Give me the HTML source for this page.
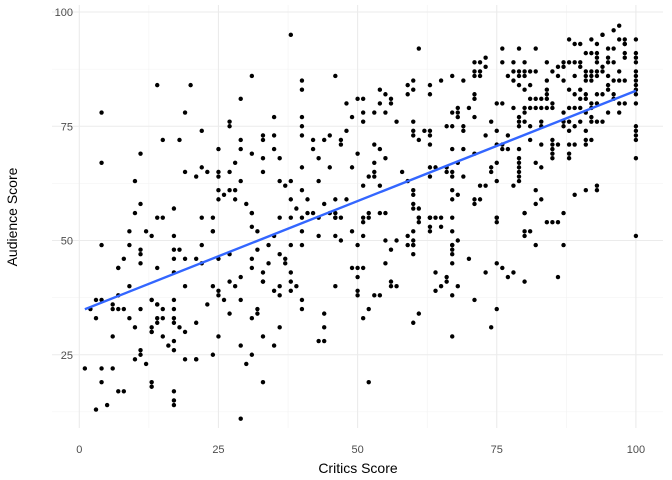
<!DOCTYPE html>
<html><head><meta charset="utf-8"><style>
html,body{margin:0;padding:0;background:#fff;}
svg{display:block;font-family:"Liberation Sans",sans-serif;}
</style></head><body>
<svg id="chart" width="672" height="480" viewBox="0 0 672 480" xmlns="http://www.w3.org/2000/svg">
<g id="grid"></g>
<g id="points"></g>
<g id="fit"></g>
<g id="axes"></g>
<text x="358" y="473" text-anchor="middle" font-size="14" fill="#000">Critics Score</text>
<text transform="translate(17,217) rotate(-90)" text-anchor="middle" font-size="14" fill="#000">Audience Score</text>
</svg>
<script>
const xTicks=[0,25,50,75,100];
const yTicks=[25,50,75,100];
const xTickLabels=["0","25","50","75","100"];
const yTickLabels=["25","50","75","100"];
const critics=[4,4,14,20,19,11,10,11,10,14,15,17,15,18,22,19,21,23,22,22,24,25,25,25,27,27,27,28,29,29,29,29,31,31,25,27,28,25,26,28,30,31,33,33,35,35,35,33,33,36,36,37,38,38,38,38,40,40,40,40,40,40,41,40,41,42,42,42,43,43,44,46,44,45,47,47,45,48,49,48,49,50,50,45,46,46,48,46,47,
51,51,51,53,54,54,55,55,56,56,57,59,59,60,60,61,63,63,65,67,69,60,60,60,61,62,63,63,63,66,67,67,68,68,68,69,69,70,71,71,71,71,72,71,72,71,72,73,73,74,73,75,76,76,76,77,78,78,78,79,79,79,80,80,80,81,82,79,80,81,82,78,80,80,79,79,79,80,81,82,83,84,81,82,83,84,85,84,84,84,84,85,85,81,83,83,86,87,87,86,87,88,89,90,88,89,90,88,89,89,90,90,91,91,
90,91,91,91,91,92,92,92,92,93,93,93,93,93,94,94,94,95,95,95,95,95,96,96,96,97,97,98,98,98,92,93,94,96,97,98,98,97,98,93,94,95,96,96,97,98,92,93,88,89,90,91,92,95,97,87,87,87,88,89,90,88,91,92,92,93,94,85,85,85,85,85,86,88,88,88,89,91,91,92,100,100,100,100,100,100,100,100,100,100,100,100,100,100,100,100,89,91,93,93,87,
53,54,55,53,53,52,53,51,54,58,59,60,60,60,60,63,63,64,66,66,67,67,67,69,68,69,67,67,68,71,71,71,72,72,73,74,74,75,75,75,75,76,76,77,77,78,79,79,79,79,79,79,79,81,83,82,83,82,82,83,80,52,52,61,63,65,67,75,
31,31,24,24,17,9,12,13,4,9,11,11,11,7,8,7,17,14,17,18,17,21,22,19,22,25,27,31,32,32,31,34,34,35,36,36,37,37,38,38,38,39,40,40,40,43,43,46,46,47,49,50,50,49,50,50,50,9,7,6,6,7,8,3,4,3,11,9,10,13,14,13,15,14,17,17,17,17,15,14,19,21,23,24,25,25,26,27,28,29,29,27,31,32,32,33,33,33,35,36,38,39,40,40,44,46,36,2,6,13,13,13,15,18,19,14,16,17,17,19,21,21,25,24,30,29,31,33,35,36,43,44,44,11,11,10,12,4,6,1,4,7,8,13,13,17,17,17,5,3,29,33,
52,54,51,51,51,55,56,57,59,59,60,60,60,60,60,61,61,61,63,63,63,65,67,64,63,67,67,68,67,67,67,70,75,75,75,80,80,80,81,82,84,85,86,87,100,55,55,56,57,56,53,54,64,64,65,66,66,67,68,71,73,76,77,78,80,86,51,52,51,60,61,67,74,75];
const audience=[78,67,84,84,78,69,63,58,56,55,55,57,72,72,74,65,64,65,66,55,55,70,65,64,76,75,65,67,81,72,70,63,86,69,61,61,61,59,60,59,58,56,73,72,77,73,70,68,65,68,63,62,63,95,59,55,85,83,77,75,73,66,59,61,56,56,72,70,68,63,58,86,72,73,72,71,66,80,77,74,66,81,69,56,56,59,59,55,55,
81,78,76,78,83,80,82,78,81,80,76,84,82,85,83,92,84,82,85,86,85,76,74,73,72,74,74,73,71,75,75,78,79,78,77,75,74,79,82,81,77,89,89,87,87,86,86,90,88,76,73,80,80,92,89,86,89,87,85,92,87,86,89,87,86,87,87,84,83,84,92,79,79,78,77,76,75,76,81,81,81,81,79,79,79,79,79,89,85,83,82,87,80,75,76,75,88,89,88,86,85,94,93,93,89,89,89,83,86,82,83,81,82,81,
88,91,87,86,85,91,87,86,85,91,90,89,87,86,95,88,87,92,90,89,86,84,92,89,85,94,87,93,91,90,94,93,95,96,97,94,93,85,85,82,82,83,81,82,80,80,80,80,79,79,79,78,79,78,78,78,76,75,76,75,76,74,74,77,76,76,76,72,71,70,69,68,71,71,69,68,71,72,71,72,94,91,90,89,87,86,85,84,83,82,80,75,74,73,72,68,60,61,62,61,56,
71,70,68,67,65,64,64,62,62,65,63,61,60,58,57,66,64,66,66,65,65,64,70,70,67,64,61,59,60,69,59,58,59,62,62,66,65,67,63,74,71,70,71,70,73,62,64,65,63,70,68,67,66,72,71,67,66,61,58,59,56,56,55,55,55,55,55,55,
56,53,52,52,51,52,52,51,49,49,48,47,45,44,46,44,43,44,48,48,46,46,45,46,49,46,47,44,52,48,46,45,49,51,55,47,46,45,49,43,41,57,55,52,49,51,55,55,51,50,52,49,44,44,42,39,38,40,38,36,35,35,35,37,37,33,35,33,31,37,36,37,35,36,37,35,33,32,33,33,40,32,36,40,38,39,37,41,40,42,37,34,33,34,35,41,41,43,39,40,39,40,37,35,34,40,38,35,29,30,31,30,29,31,30,32,27,28,26,24,24,24,29,25,23,27,25,29,27,31,28,28,31,26,25,24,23,22,22,22,19,17,17,18,19,14,17,15,14,13,11,19,19,
56,55,54,51,50,48,50,51,49,49,47,50,49,52,54,57,55,53,52,55,53,52,55,55,48,45,50,49,49,47,46,45,54,55,52,51,56,52,49,54,54,54,49,51,56,45,41,40,40,38,38,39,43,40,41,42,38,40,37,43,44,42,43,41,42,44,35,33,32,34,29,31,35,34];
const W=672,H=480,PL=52,PR=663,PT=5,PB=428;
function xs(v){return 79.3+v*5.566;}
function ys(v){return 469-v*4.57;}
const NS="http://www.w3.org/2000/svg";
function mk(tag,attrs,parent){const e=document.createElementNS(NS,tag);for(const k in attrs)e.setAttribute(k,attrs[k]);parent.appendChild(e);return e;}
const grid=document.getElementById('grid');
// minor
for(let i=0;i<xTicks.length-1;i++){const v=(xTicks[i]+xTicks[i+1])/2;const l=mk('line',{x1:xs(v),x2:xs(v),y1:PT,y2:PB,stroke:'#f2f2f2','stroke-width':0.6},grid);

}
for(const v of [12.5,37.5,62.5,87.5]){const l=mk('line',{x1:PL,x2:PR,y1:ys(v),y2:ys(v),stroke:'#f2f2f2','stroke-width':0.6},grid);

}
const axes=document.getElementById('axes');
xTicks.forEach((v,i)=>{const l=mk('line',{x1:xs(v),x2:xs(v),y1:PT,y2:PB,stroke:'#ebebeb','stroke-width':1.1},grid);


const t=mk('text',{x:xs(v),y:453,'text-anchor':'middle','font-size':11,fill:'#4d4d4d'},axes);t.textContent=xTickLabels[i];

});
yTicks.forEach((v,i)=>{const l=mk('line',{x1:PL,x2:PR,y1:ys(v),y2:ys(v),stroke:'#ebebeb','stroke-width':1.1},grid);


const t=mk('text',{x:73,y:ys(v)+4,'text-anchor':'end','font-size':11,fill:'#4d4d4d'},axes);t.textContent=yTickLabels[i];

});
const pts=document.getElementById('points');
const n=Math.min(critics.length,audience.length);
for(let i=0;i<n;i++){const c=mk('circle',{cx:xs(critics[i]),cy:ys(audience[i]),r:2.2,fill:'#000'},pts);

}
// least squares fit
let sx=0,sy=0,sxx=0,sxy=0;for(let i=0;i<n;i++){sx+=critics[i];sy+=audience[i];sxx+=critics[i]*critics[i];sxy+=critics[i]*audience[i];}
const b=(n*sxy-sx*sy)/(n*sxx-sx*sx),a=(sy-b*sx)/n;
const xmin=Math.min(...critics.slice(0,n)),xmax=Math.max(...critics.slice(0,n));
const fl=mk('line',{x1:xs(xmin),y1:ys(a+b*xmin),x2:xs(xmax),y2:ys(a+b*xmax),stroke:'#3366FF','stroke-width':2.4},document.getElementById('fit'));


</script>
</body></html>
